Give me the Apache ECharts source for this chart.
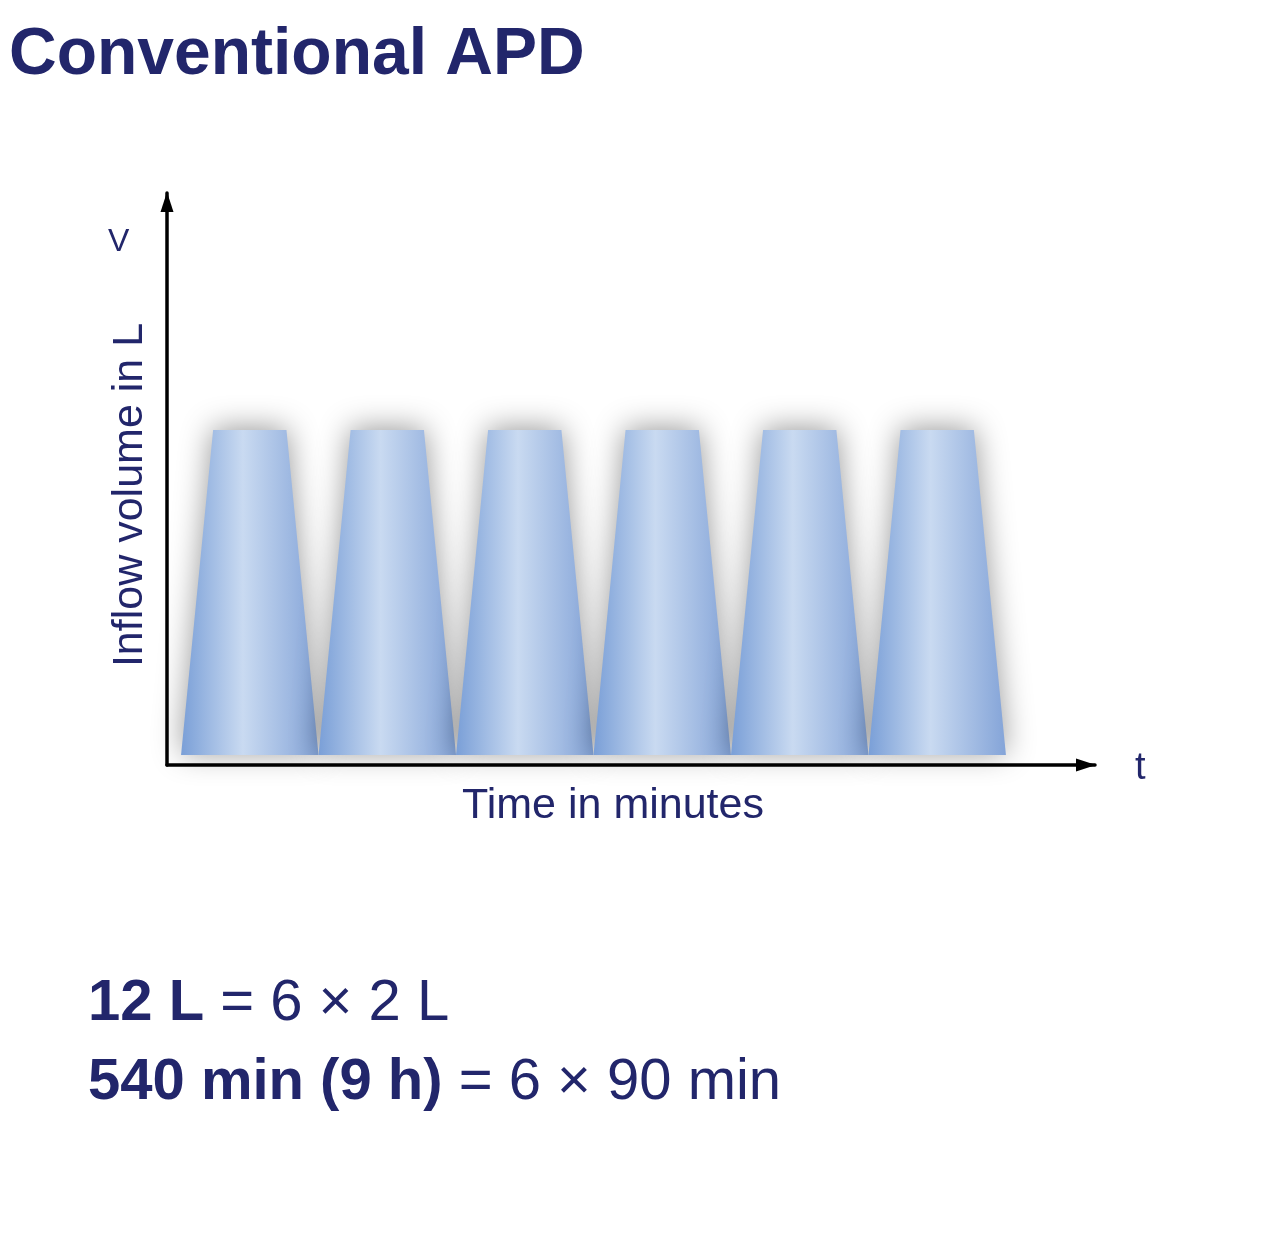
<!DOCTYPE html>
<html>
<head>
<meta charset="utf-8">
<script src="https://cdn.jsdelivr.net/npm/echarts@6/dist/echarts.min.js"></script>
<style>html,body{margin:0;padding:0;background:#fff}#c{width:1280px;height:1259px}</style>
</head>
<body>
<div id="c"></div>
<script>
// ---- data ----
const cycleStarts = [0, 90, 180, 270, 360, 450];      // minutes
const cycleDurations = [90, 90, 90, 90, 90, 90];      // minutes
const fillVolumes = [2, 2, 2, 2, 2, 2];               // litres
const inflowMinutes = [21, 21, 21, 21, 21, 21];
const drainMinutes = [21, 21, 21, 21, 21, 21];
const titleText = 'Conventional APD';
const xAxisTitle = 'Time in minutes';
const yAxisTitle = 'Inflow volume in L';
const xSymbol = 't';
const ySymbol = 'V';
const line1Bold = '12 L', line1Rest = ' = 6 × 2 L';
const line2Bold = '540 min (9 h)', line2Rest = ' = 6 × 90 min';

const navy = '#22266b';
const font = 'Liberation Sans';
const chart = echarts.init(document.getElementById('c'));
const seriesData = cycleStarts.map((s, i) => [s, cycleDurations[i], fillVolumes[i], inflowMinutes[i], drainMinutes[i]]);

const rich = {
  b: { fontFamily: font, fontWeight: 'bold', fontSize: 58, fill: navy },
  r: { fontFamily: font, fontSize: 58, fill: navy }
};

chart.setOption({
  backgroundColor: '#fff',
  animation: false,
  title: {
    text: titleText, left: 4, top: 18,
    textStyle: { fontFamily: font, fontWeight: 'bold', fontSize: 66, color: navy }
  },
  grid: { left: 167, right: 185, top: 193, bottom: 494 },
  xAxis: {
    type: 'value', min: -9.2, max: 598.3,
    axisLine: { show: true, onZero: false, symbol: ['none', 'triangle'], symbolSize: [13, 20], symbolOffset: [0, -9], lineStyle: { color: '#000', width: 3.5 } },
    axisTick: { show: false }, axisLabel: { show: false }, splitLine: { show: false }
  },
  yAxis: {
    type: 'value', min: -0.0615, max: 3.458,
    axisLine: { show: true, onZero: false, symbol: ['none', 'triangle'], symbolSize: [13, 20], symbolOffset: [0, -9], lineStyle: { color: '#000', width: 3.5 } },
    axisTick: { show: false }, axisLabel: { show: false }, splitLine: { show: false }
  },
  graphic: [
    { type: 'text', x: 613, y: 806, style: { text: xAxisTitle, fontFamily: font, fontSize: 43, fill: navy, align: 'center', verticalAlign: 'middle' } },
    { type: 'text', x: 130, y: 495, rotation: Math.PI / 2, style: { text: yAxisTitle, fontFamily: font, fontSize: 43, fill: navy, align: 'center', verticalAlign: 'middle' } },
    { type: 'text', left: 1135, top: 750, style: { text: xSymbol, fontFamily: font, fontSize: 38, fill: navy } },
    { type: 'text', left: 108, top: 226, style: { text: ySymbol, fontFamily: font, fontSize: 32, fill: navy } },
    { type: 'text', left: 88, top: 975, style: { text: '{b|' + line1Bold + '}{r|' + line1Rest + '}', rich: rich } },
    { type: 'text', left: 88, top: 1054, style: { text: '{b|' + line2Bold + '}{r|' + line2Rest + '}', rich: rich } }
  ],
  series: [{
    type: 'custom',
    data: seriesData,
    renderItem: function (params, api) {
      const s = api.value(0), d = api.value(1), v = api.value(2), inf = api.value(3), dr = api.value(4);
      const p0 = api.coord([s, 0]);
      const p1 = api.coord([s + d, 0]);
      const p2 = api.coord([s + d - dr, v]);
      const p3 = api.coord([s + inf, v]);
      return {
        type: 'polygon',
        shape: { points: [p0, p1, p2, p3] },
        style: {
          fill: new echarts.graphic.LinearGradient(0, 0, 1, 0, [
            { offset: 0, color: '#7a9fd7' },
            { offset: 0.45, color: '#c9daf1' },
            { offset: 1, color: '#84a4d8' }
          ]),
          shadowBlur: 30, shadowColor: 'rgba(0,0,0,0.4)', shadowOffsetY: -2
        }
      };
    }
  }]
});
</script>
</body>
</html>
